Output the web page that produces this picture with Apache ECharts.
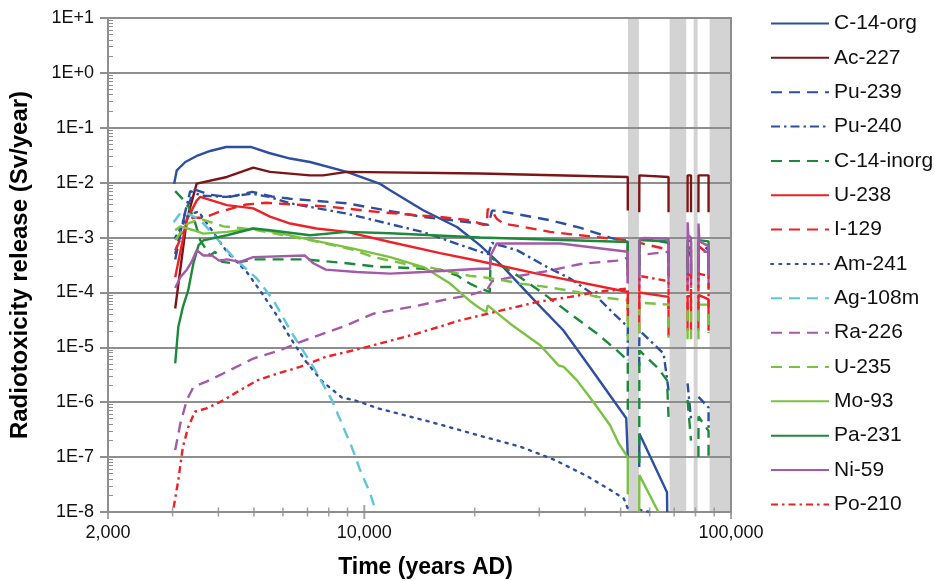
<!DOCTYPE html>
<html><head><meta charset="utf-8">
<script src="https://cdn.jsdelivr.net/npm/echarts@6/dist/echarts.min.js"></script>
<style>html,body{margin:0;padding:0;background:#fff}#c{width:935px;height:581px}</style>
</head><body><div id="c"></div>
<script>
// ---- data: [year AD, Sv/year] ; null value = gap (release interrupted) ----
const c14org = [[3030,0.0095],[3080,0.0168],[3250,0.0238],[3480,0.0303],[3800,0.0378],[4200,0.0447],[4900,0.0447],[5500,0.0347],[6280,0.0275],[7110,0.0238],[8960,0.0157],[11040,0.0095],[11760,0.0073],[14470,0.00314],[17890,0.00156],[20700,7.2e-4],[23930,2.9e-4],[29570,6.4e-5],[34880,2.05e-5],[41300,4.3e-6],[51800,5.1e-7],[52300,1.0e-7],[52300,null],[56200,6.6e-8],[56250,2.7e-7],[66900,2.3e-8],[67000,1e-8]];
const ac227 = [[3050,5.1e-5],[3280,2.1e-3],[3490,0.0096],[4220,0.0127],[4980,0.0188],[5530,0.0157],[7110,0.0136],[7720,0.0136],[8960,0.0157],[20700,0.0147],[52300,0.0127],[52300,0.0031],[52300,null],[56200,0.0029],[56250,0.0136],[67560,0.0127],[67560,0.0029],[67560,null],[76130,0.0029],[76150,0.0136],[77800,0.0136],[77800,0.0029],[77800,null],[81500,0.0029],[81550,0.0136],[86860,0.0136],[86860,0.0029]];
const pu239 = [[3050,4.0e-4],[3250,3.0e-3],[3450,7.5e-3],[3800,6.0e-3],[4300,5.5e-3],[4950,6.8e-3],[5600,5.6e-3],[6280,5.1e-3],[8960,4.2e-3],[14470,2.37e-3],[20700,1.8e-3],[21800,1.7e-3],[22300,3.1e-3],[23000,3.1e-3],[27100,2.55e-3],[32100,2.07e-3],[38900,1.5e-3],[46800,1.0e-3],[52300,8.3e-4],[52300,2.5e-4],[52300,null],[56200,2.5e-4],[56250,1.0e-3],[67560,8.0e-4],[67560,2.5e-4],[67560,null],[76130,2.5e-4],[76150,6e-4],[77800,4.5e-4],[77800,2e-4],[77800,null],[81500,2.5e-4],[81550,8e-4],[86860,6e-4],[86860,2.5e-4]];
const pu240 = [[3050,5.0e-4],[3350,7.0e-3],[3600,5.8e-3],[4200,5.5e-3],[4950,6.3e-3],[5500,5.5e-3],[6280,4.2e-3],[8960,2.73e-3],[14470,1.26e-3],[20700,5.5e-4],[21800,5.0e-4],[22300,8e-4],[22960,7.5e-4],[26070,5.9e-4],[31470,2.92e-4],[36430,1.79e-4],[43100,8.3e-5],[47900,4.1e-5],[52300,2.35e-5],[52300,5.8e-6],[52300,null],[56200,4.6e-6],[56250,2.05e-5],[65500,7.7e-6],[67560,1.65e-6],[67560,null],[76130,2.2e-6],[77800,5e-7],[77800,null],[81500,1.25e-6],[86860,8e-7],[86860,3e-7]];
const c14inorg = [[3050,7e-3],[3280,4.2e-3],[3420,2.4e-3],[3570,8.9e-4],[3800,4.7e-4],[3920,5.5e-4],[4090,3.6e-4],[4390,3.4e-4],[4980,4.0e-4],[6890,4.0e-4],[8960,3.4e-4],[11040,2.9e-4],[11760,2.9e-4],[16100,2.6e-4],[17890,2.05e-4],[19400,1.45e-4],[20700,1.18e-4],[22000,1.02e-4],[22100,4.4e-4],[23960,2.9e-4],[26590,1.9e-4],[30820,9.5e-5],[36430,4.1e-5],[43100,1.78e-5],[48860,8.8e-6],[52300,5.8e-6],[52300,7.1e-7],[52300,null],[56200,7.8e-8],[56250,8.8e-6],[63400,4.1e-6],[66900,2.5e-6],[67560,5.4e-7],[67560,null],[76130,1.1e-6],[77800,2e-7],[77800,null],[81500,1e-7],[81550,5.5e-7],[86860,3e-7],[86860,1e-7]];
const u238 = [[3050,1.9e-4],[3280,2.1e-3],[3490,4.7e-3],[3570,5.5e-3],[4220,3.9e-3],[4980,3.4e-3],[5530,2.4e-3],[6280,1.8e-3],[7400,1.46e-3],[8960,1.27e-3],[11760,8.3e-4],[16100,5.2e-4],[20700,3.7e-4],[29570,2.2e-4],[52300,1.02e-4],[52300,3e-5],[52300,null],[56200,2e-5],[56250,1.0e-4],[67560,8.3e-5],[67560,1.6e-5],[67560,null],[76130,2e-5],[76150,8.5e-5],[77800,8.5e-5],[77800,2e-5],[77800,null],[81500,2e-5],[81550,9e-5],[86860,7.5e-5],[86860,2e-5]];
const i129 = [[3050,5.8e-4],[3280,1.7e-3],[3400,2.3e-3],[3660,2.3e-3],[4000,2.9e-3],[4760,4.0e-3],[5400,4.3e-3],[6420,4.0e-3],[7850,3.7e-3],[11040,2.9e-3],[12520,2.7e-3],[16100,2.37e-3],[19440,2.07e-3],[21130,1.7e-3],[21580,1.7e-3],[21700,3.3e-3],[22280,3.1e-3],[22960,2.2e-3],[23960,1.8e-3],[27170,1.56e-3],[32100,1.27e-3],[38900,1.1e-3],[46800,9.6e-4],[52300,8.9e-4],[52300,2e-4],[52300,null],[56200,3e-4],[56250,8e-4],[67560,6e-4],[67560,2e-4],[67560,null],[76130,3e-4],[76150,7e-4],[77800,6e-4],[77800,2e-4],[77800,null],[81500,3e-4],[81550,7e-4],[86860,5e-4],[86860,2e-4]];
const am241 = [[3050,1.0e-3],[3300,2.5e-3],[3530,3.0e-3],[4220,5.5e-4],[4780,2.36e-4],[5250,9.8e-5],[5770,3.84e-5],[6280,1.5e-5],[6890,5.8e-6],[7660,2.44e-6],[8680,1.22e-6],[9400,1.09e-6],[10930,7.7e-7],[15120,4.4e-7],[20920,2.4e-7],[26780,1.53e-7],[33160,8.8e-8],[40500,4.5e-8],[47640,2.36e-8],[51000,1.76e-8],[52300,1.16e-8],[52300,null],[56200,1.1e-8],[60000,1e-8]];
const ag108m = [[3020,1.9e-3],[3150,2.8e-3],[3280,2.8e-3],[3570,2.1e-3],[3960,9.6e-4],[4390,4.4e-4],[5090,1.8e-4],[5650,7.2e-5],[6400,1.66e-5],[7260,4.4e-6],[8160,1.09e-6],[8680,4.1e-7],[9240,1.53e-7],[9740,5.8e-8],[10370,2.2e-8],[10770,1.0e-8]];
const ra226 = [[3050,1.34e-7],[3150,4.1e-7],[3280,1.09e-6],[3420,1.9e-6],[3710,2.37e-6],[4220,3.6e-6],[4980,6.25e-6],[5890,8.8e-6],[6680,1.25e-5],[8960,2.53e-5],[10590,4.1e-5],[13910,5.7e-5],[16790,7.5e-5],[19400,9e-5],[21580,1.1e-4],[22300,1.6e-4],[25510,1.92e-4],[32100,2.5e-4],[38900,3.3e-4],[48860,3.8e-4],[52300,4.3e-4],[52300,1.5e-4],[52300,null],[56200,1.5e-4],[56250,4.8e-4],[67560,5.5e-4],[67560,1.5e-4],[67560,null],[76130,1.5e-4],[76150,5.5e-4],[77800,5.5e-4],[77800,1.5e-4],[77800,null],[81500,1.5e-4],[81550,5.5e-4],[86860,5.5e-4],[86860,1.5e-4]];
const u235 = [[3050,9e-4],[3300,1.8e-3],[3570,2.2e-3],[4130,1.6e-3],[4980,1.4e-3],[7260,8.7e-4],[9330,6e-4],[10590,4.4e-4],[14200,2.9e-4],[15260,2.8e-4],[19400,2.0e-4],[21000,1.9e-4],[23500,1.7e-4],[26590,1.45e-4],[31470,1.26e-4],[38000,1.02e-4],[43100,8.3e-5],[52300,7.2e-5],[52300,1.35e-5],[52300,null],[56200,1.8e-5],[56250,6.5e-5],[67560,6e-5],[67560,1.5e-5],[67560,null],[76130,1.4e-5],[76150,5e-5],[77800,5e-5],[77800,1.4e-5],[77800,null],[81500,1.4e-5],[81550,6e-5],[86860,6e-5],[86860,1.8e-5]];
const mo93 = [[3050,1.36e-3],[3150,1.6e-3],[3420,1.36e-3],[3640,1.18e-3],[4220,1.27e-3],[4980,1.46e-3],[5650,1.27e-3],[7260,8.9e-4],[9330,6.3e-4],[11760,4.4e-4],[14500,2.9e-4],[17140,1.45e-4],[19400,7.0e-5],[20700,5.1e-5],[21500,4.4e-5],[21700,5.8e-5],[24990,2.7e-5],[30180,1.09e-5],[33850,4.7e-6],[35000,4.4e-6],[38000,2.5e-6],[42190,1.0e-6],[46800,3.8e-7],[49400,1.77e-7],[52300,1.0e-7],[52300,2.1e-8],[52300,null],[56200,1e-8],[56250,4.7e-8],[63400,1.0e-8]];
const pa231 = [[3050,5.1e-6],[3110,2.35e-5],[3200,5.4e-5],[3310,1.1e-4],[3420,3.4e-4],[3530,7.2e-4],[3640,8.9e-4],[4220,1.1e-3],[4980,1.46e-3],[5530,1.36e-3],[7110,1.1e-3],[8960,1.27e-3],[11760,1.2e-3],[20700,1.0e-3],[52300,8.3e-4],[52300,2e-4],[52300,null],[56200,2e-4],[56250,9e-4],[67560,8.5e-4],[67560,2e-4],[67560,null],[76130,2e-4],[76150,9e-4],[77800,8.5e-4],[77800,2e-4],[77800,null],[81500,2e-4],[81550,9e-4],[86860,8.5e-4],[86860,2e-4]];
const ni59 = [[3050,1.2e-4],[3150,1.9e-4],[3280,2.6e-4],[3380,3.6e-4],[3490,5.9e-4],[3640,4.7e-4],[3840,4.7e-4],[4020,3.8e-4],[4220,4.0e-4],[4580,3.6e-4],[4980,4.4e-4],[6890,4.7e-4],[7260,3.4e-4],[7850,2.6e-4],[9530,2.36e-4],[11760,2.2e-4],[14500,2.36e-4],[20700,2.7e-4],[22040,2.7e-4],[22100,4.7e-4],[22960,7.8e-4],[34220,7.8e-4],[52300,5.5e-4],[52300,1.45e-4],[52300,null],[56200,1.2e-4],[56250,8.5e-4],[56800,9.6e-4],[58000,9.8e-4],[67560,9.5e-4],[67560,1.2e-4],[67560,null],[76130,1.1e-4],[76150,1.9e-3],[76500,1.1e-3],[77800,1.0e-3],[77800,1.2e-4],[77800,null],[81500,1.2e-4],[81550,1.8e-3],[82000,8.5e-4],[86860,7e-4],[86860,1.2e-4]];
const po210 = [[3020,1.2e-8],[3110,3.8e-8],[3200,1.53e-7],[3310,3.5e-7],[3450,6.7e-7],[3710,7.7e-7],[4130,1.09e-6],[4580,1.65e-6],[5110,2.5e-6],[5780,3.3e-6],[6680,4.4e-6],[7850,6.7e-6],[9330,8.8e-6],[10590,1.09e-5],[13910,1.78e-5],[18250,3.1e-5],[23960,4.8e-5],[29570,6.7e-5],[36430,8.3e-5],[43100,1.02e-4],[52300,1.18e-4],[52300,4e-5],[52300,null],[56200,5e-5],[56250,2.0e-4],[67560,1.6e-4],[67560,5e-5],[67560,null],[76130,5e-5],[76150,2.2e-4],[77800,2e-4],[77800,5e-5],[77800,null],[81500,5e-5],[81550,2.2e-4],[86860,2e-4],[86860,5e-5]];

// shaded periods (years AD)
const bands = [[52360,56100],[68000,75500],[79100,81100],[87400,100000]];
// x axis tick positions
const xMinorTicks = [3000,4000,5000,6000,7000,8000,9000,20000,30000,40000,50000,60000,70000,80000,90000];
const xMajorTicks = [2000,10000,100000];

// ---- styles ----
const BLUE='#2d4f9f', MAROON='#7d1517', GREEN='#1c8a3b', RED='#ec2227', LBLUE='#5dc5dc', PURPLE='#a459a9', LGREEN='#7bc142';
const DASH=[11,7], DASHDOT=[9,4,2.5,4], DOT=[2.2,6], PODASH=[7,4,2.5,4];
const defs = [
  ['C-14-org', c14org, BLUE, 'solid'],
  ['Ac-227', ac227, MAROON, 'solid'],
  ['Pu-239', pu239, BLUE, DASH],
  ['Pu-240', pu240, BLUE, DASHDOT],
  ['C-14-inorg', c14inorg, GREEN, DASH],
  ['U-238', u238, RED, 'solid'],
  ['I-129', i129, RED, DASH],
  ['Am-241', am241, BLUE, DOT],
  ['Ag-108m', ag108m, LBLUE, DASH],
  ['Ra-226', ra226, PURPLE, DASH],
  ['U-235', u235, LGREEN, DASH],
  ['Mo-93', mo93, LGREEN, 'solid'],
  ['Pa-231', pa231, GREEN, 'solid'],
  ['Ni-59', ni59, PURPLE, 'solid'],
  ['Po-210', po210, RED, PODASH]
];
const GRID='#8e8e8e';
const FONT='Liberation Sans, Arial, sans-serif';

const series = [];
series.push({
  name:'_ticks', type:'scatter', silent:true, clip:false, z:3,
  symbol:'rect', symbolSize:[1.6,9], itemStyle:{color:GRID},
  data: xMinorTicks.map(v=>[v,1e-8]),
  markArea:{silent:true, z:1, itemStyle:{color:'rgba(140,140,140,0.38)'},
    data: bands.map(b=>[{xAxis:b[0]},{xAxis:b[1]}])}
});
series.push({
  name:'_majticks', type:'scatter', silent:true, clip:false, z:3,
  symbol:'rect', symbolSize:[2,14], itemStyle:{color:GRID},
  data: xMajorTicks.map(v=>[v,1e-8])
});
defs.forEach(d=>{
  series.push({
    name:d[0], type:'line', data:d[1], symbol:'none', showSymbol:false, connectNulls:false,
    lineStyle:{color:d[2], width:2.4, type:d[3], cap: d[3]===DOT?'round':'butt'},
    itemStyle:{color:d[2]}, emphasis:{disabled:true}
  });
});

const chart = echarts.init(document.getElementById('c'), null, {renderer:'canvas'});
chart.setOption({
  animation:false,
  backgroundColor:'#fff',
  grid:{left:108, right:204, top:18, bottom:69, show:true, borderColor:GRID, borderWidth:2,
        containLabel:false, outerBoundsMode:'none'},
  legend:{
    data: defs.map(d=>d[0]), orient:'vertical', left:770, top:13, padding:0,
    itemWidth:58, itemHeight:14, itemGap:13.35, selectedMode:false,
    itemStyle:{opacity:0, borderWidth:0},
    textStyle:{fontSize:21, fontFamily:FONT, color:'#111', lineHeight:20}
  },
  xAxis:{
    type:'log', logBase:10, min:2000, max:100000,
    name:'Time (years AD)', nameLocation:'middle', nameGap:44,
    nameTextStyle:{fontSize:23, fontWeight:'bold', fontFamily:FONT, color:'#000', padding:[0,0,0,12]},
    axisLine:{lineStyle:{color:GRID, width:2}},
    axisTick:{show:false},
    splitLine:{show:false},
    axisLabel:{fontSize:18, fontFamily:FONT, color:'#111', margin:12,
      formatter:v=>Math.round(v).toLocaleString('en-US')}
  },
  yAxis:[{
    type:'log', logBase:10, min:1e-8, max:10, position:'left',
    name:'Radiotoxicity release (Sv/year)', nameLocation:'middle', nameGap:76,
    nameTextStyle:{fontSize:24, fontWeight:'bold', fontFamily:FONT, color:'#000'},
    axisLine:{show:true, lineStyle:{color:GRID, width:2}},
    axisTick:{show:true, length:8, lineStyle:{color:GRID, width:2}},
    splitLine:{show:true, lineStyle:{color:GRID, width:2}},
    axisLabel:{fontSize:18, fontFamily:FONT, color:'#111', margin:14,
      formatter:v=>{const e=Math.round(Math.log10(v)); return '1E'+(e>=0?'+':'-')+Math.abs(e);}}
  },{
    type:'log', logBase:10, min:1e-8, max:10, position:'left',
    axisLine:{show:false}, axisLabel:{show:false}, splitLine:{show:false},
    axisTick:{show:false, inside:true},
    minorTick:{show:true, splitNumber:9, length:5, lineStyle:{color:GRID, width:1}}
  }],
  series: series
});
</script>
</body></html>
